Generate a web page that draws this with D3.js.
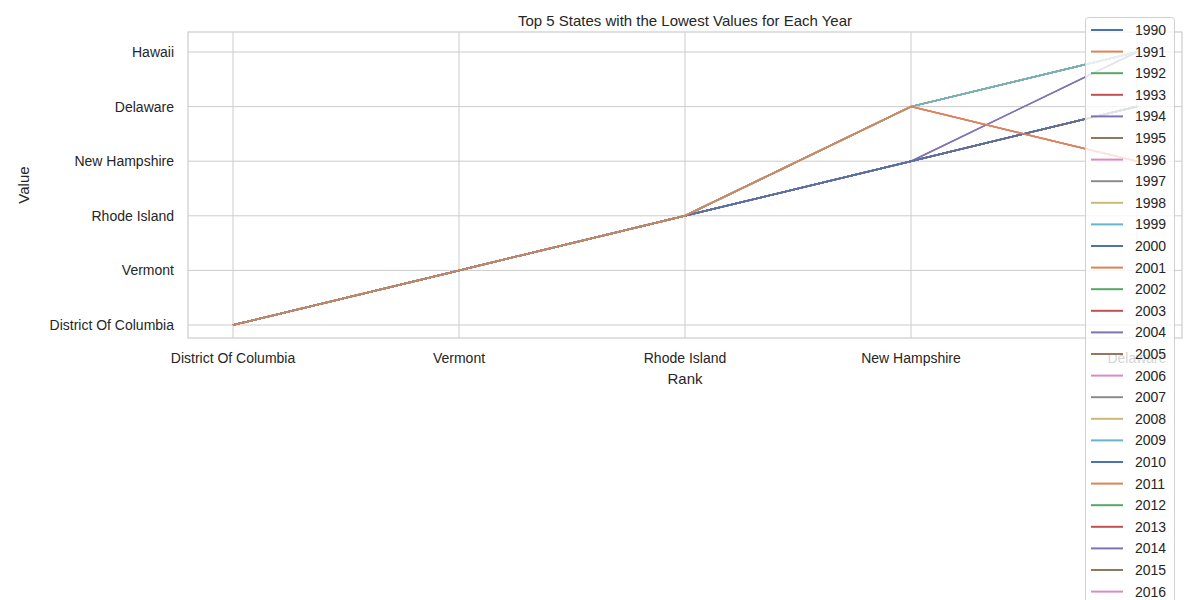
<!DOCTYPE html><html><head><script src="https://cdn.jsdelivr.net/npm/d3@7"></script>
<style>body{margin:0;background:#fff;font-family:Arial,"Liberation Sans",sans-serif}</style></head><body><svg width="1200" height="600"></svg><script>
const xCats=["District Of Columbia","Vermont","Rhode Island","New Hampshire","Delaware"];
const yCats=["District Of Columbia","Vermont","Rhode Island","New Hampshire","Delaware","Hawaii"];
const years=d3.range(1990,2022);
const rank4=["New Hampshire","New Hampshire","New Hampshire","New Hampshire","New Hampshire","New Hampshire","New Hampshire","New Hampshire","New Hampshire","Delaware","New Hampshire","Delaware","New Hampshire","New Hampshire","New Hampshire","Delaware","Delaware","Delaware","Delaware","Delaware","New Hampshire","Delaware","New Hampshire","New Hampshire","New Hampshire","Delaware","Delaware","Delaware","Delaware","Delaware","New Hampshire","Delaware"];
const rank5=["Delaware","Delaware","Delaware","Delaware","Delaware","Delaware","Delaware","Delaware","Delaware","Hawaii","Delaware","New Hampshire","Delaware","Delaware","Hawaii","Hawaii","Hawaii","Hawaii","Hawaii","Hawaii","Delaware","New Hampshire","Delaware","Delaware","Hawaii","Hawaii","New Hampshire","Hawaii","Hawaii","Hawaii","Delaware","New Hampshire"];
const colors=["#4c72b0","#dd8452","#55a868","#c44e52","#8172b3","#937860","#da8bc3","#8c8c8c","#ccb974","#64b5cd"];
const svg=d3.select("svg");
const L=188,R=1182,T=32,B=338;
const x=d3.scalePoint().domain(xCats).range([233,1137]);
const y=d3.scalePoint().domain(yCats).range([325,52]);
const g=svg.append("g");
x.domain().forEach(c=>g.append("line").attr("x1",x(c)).attr("x2",x(c)).attr("y1",T).attr("y2",B).attr("stroke","#cccccc"));
y.domain().forEach(c=>g.append("line").attr("y1",y(c)).attr("y2",y(c)).attr("x1",L).attr("x2",R).attr("stroke","#cccccc"));
g.append("rect").attr("x",L).attr("y",T).attr("width",R-L).attr("height",B-T).attr("fill","none").attr("stroke","#cccccc").attr("stroke-width",1.2);
const line=d3.line().x(d=>x(d[0])).y(d=>y(d[1]));
years.forEach((yr,i)=>{
 const pts=[["District Of Columbia","District Of Columbia"],["Vermont","Vermont"],["Rhode Island","Rhode Island"],["New Hampshire",rank4[i]],["Delaware",rank5[i]]];
 g.append("path").attr("d",line(pts)).attr("fill","none").attr("stroke",colors[i%10]).attr("stroke-width",1.5);
});
yCats.forEach(c=>svg.append("text").attr("x",L-14).attr("y",y(c)).attr("dy","0.35em").attr("text-anchor","end").attr("font-size",14).attr("fill","#262626").text(c));
xCats.forEach(c=>svg.append("text").attr("x",x(c)).attr("y",363).attr("text-anchor","middle").attr("font-size",14).attr("fill","#262626").text(c));
svg.append("text").attr("x",685).attr("y",384).attr("text-anchor","middle").attr("font-size",15).attr("fill","#262626").text("Rank");
svg.append("text").attr("transform","translate(29,185) rotate(-90)").attr("text-anchor","middle").attr("font-size",15).attr("fill","#262626").text("Value");
svg.append("text").attr("x",685).attr("y",26).attr("text-anchor","middle").attr("font-size",15).attr("fill","#262626").text("Top 5 States with the Lowest Values for Each Year");
const lg=svg.append("g");
lg.append("rect").attr("x",1085.5).attr("y",17.5).attr("width",89).attr("height",700).attr("rx",3).attr("fill","rgba(255,255,255,0.8)").attr("stroke","#d0d0d0");
years.forEach((yr,i)=>{
 const yy=30+i*21.6;
 lg.append("line").attr("x1",1091).attr("x2",1123).attr("y1",yy).attr("y2",yy).attr("stroke",colors[i%10]).attr("stroke-width",2);
 lg.append("text").attr("x",1135).attr("y",yy).attr("dy","0.35em").attr("font-size",14).attr("fill","#262626").text(yr);
});
</script></body></html>
